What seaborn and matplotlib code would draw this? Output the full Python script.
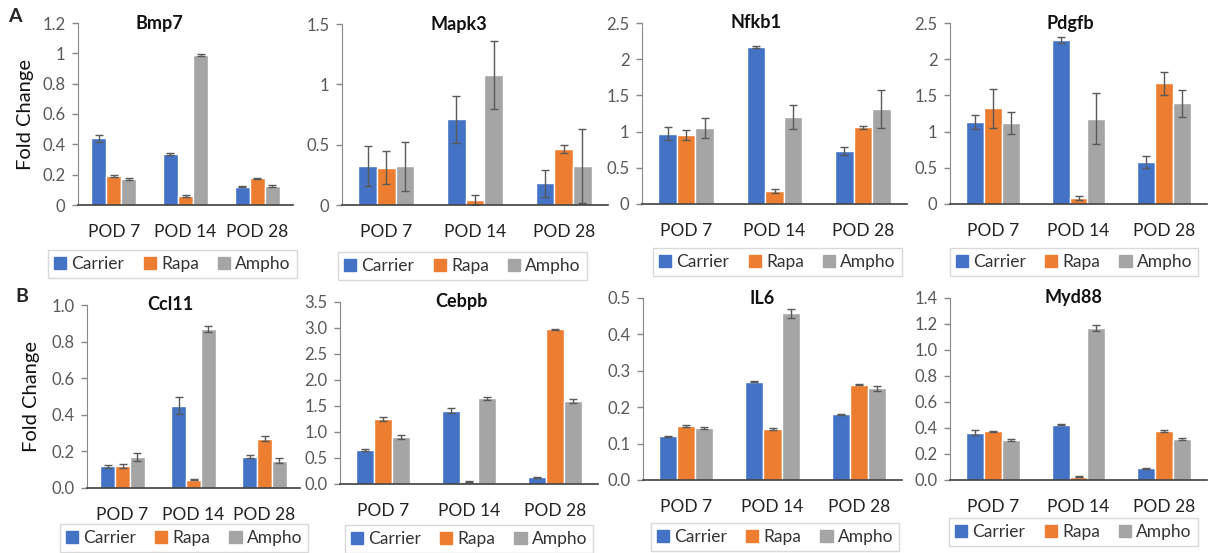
import matplotlib
matplotlib.use("Agg")
import matplotlib.pyplot as plt
import pandas as pd
import seaborn as sns

# categorias
PODS = ["POD 7", "POD 14", "POD 28"]
GROUPS = ["Carrier", "Rapa", "Ampho"]
GENES = ["Bmp7", "Mapk3", "Nfkb1", "Pdgfb", "Ccl11", "Cebpb", "IL6", "Myd88"]

# medias (filas = Carrier, Rapa, Ampho; columnas = POD 7, 14, 28)
bmp7_mean = [[0.44, 0.335, 0.12], [0.19, 0.06, 0.175], [0.17, 0.99, 0.125]]
bmp7_err = [[0.022, 0.008, 0.004], [0.005, 0.005, 0.004], [0.005, 0.005, 0.005]]
mapk3_mean = [[0.32, 0.71, 0.18], [0.31, 0.04, 0.465], [0.32, 1.075, 0.325]]
mapk3_err = [[0.165, 0.195, 0.11], [0.14, 0.04, 0.03], [0.2, 0.28, 0.305]]
nfkb1_mean = [[0.97, 2.17, 0.73], [0.95, 0.18, 1.06], [1.05, 1.2, 1.31]]
nfkb1_err = [[0.09, 0.01, 0.06], [0.07, 0.03, 0.02], [0.14, 0.17, 0.26]]
pdgfb_mean = [[1.13, 2.27, 0.58], [1.32, 0.08, 1.67], [1.12, 1.18, 1.39]]
pdgfb_err = [[0.1, 0.04, 0.08], [0.27, 0.03, 0.16], [0.15, 0.35, 0.19]]
ccl11_mean = [[0.12, 0.45, 0.17], [0.12, 0.045, 0.27], [0.17, 0.87, 0.15]]
ccl11_err = [[0.008, 0.045, 0.008], [0.01, 0.003, 0.012], [0.02, 0.015, 0.015]]
cebpb_mean = [[0.66, 1.41, 0.13], [1.25, 0.04, 2.98], [0.9, 1.65, 1.59]]
cebpb_err = [[0.02, 0.05, 0.01], [0.03, 0.01, 0.01], [0.04, 0.03, 0.04]]
il6_mean = [[0.12, 0.27, 0.18], [0.148, 0.14, 0.262], [0.143, 0.458, 0.252]]
il6_err = [[0.002, 0.002, 0.002], [0.002, 0.002, 0.002], [0.002, 0.012, 0.007]]
myd88_mean = [[0.365, 0.425, 0.09], [0.375, 0.025, 0.38], [0.31, 1.17, 0.315]]
myd88_err = [[0.02, 0.005, 0.005], [0.005, 0.003, 0.008], [0.008, 0.02, 0.008]]

MEANS = [bmp7_mean, mapk3_mean, nfkb1_mean, pdgfb_mean,
         ccl11_mean, cebpb_mean, il6_mean, myd88_mean]
ERRS = [bmp7_err, mapk3_err, nfkb1_err, pdgfb_err,
        ccl11_err, cebpb_err, il6_err, myd88_err]

# ejes
YMAX = [1.2, 1.5, 2.5, 2.5, 1.0, 3.5, 0.5, 1.4]
YSTEP = [0.2, 0.5, 0.5, 0.5, 0.2, 0.5, 0.1, 0.2]

COLORS = ["#4472C4", "#ED7D31", "#A5A5A5"]

W, H = 1209, 553
# rectangulos de ejes en pixeles (izq, arriba, der, abajo)
AX_PX = [(78, 23, 293, 205), (342, 24, 608, 205), (642, 23, 907, 204), (950, 23, 1207, 204),
         (87, 305, 300, 488), (340, 302, 598, 484), (643, 298, 902, 480), (950, 298, 1207, 480)]
LEG_PX = [(50, 248, 295, 280), (347, 252, 578, 280), (650, 247, 905, 277), (948, 246, 1200, 278),
          (60, 523, 308, 553), (343, 525, 595, 553), (648, 522, 902, 552), (947, 517, 1200, 547)]
TITLE_X = [0.38, 0.44, 0.43, 0.47, 0.39, 0.47, 0.46, 0.48]

sns.set_style("white")
plt.rcParams["font.family"] = ["Lato", "DejaVu Sans"]

fig = plt.figure(figsize=(W / 100, H / 100), dpi=100)

for i, gene in enumerate(GENES):
    l, t, r, b = AX_PX[i]
    ax = fig.add_axes([l / W, 1 - b / H, (r - l) / W, (b - t) / H])

    df = pd.DataFrame([
        {"pod": pod, "group": grp, "value": MEANS[i][g][p]}
        for g, grp in enumerate(GROUPS) for p, pod in enumerate(PODS)
    ])
    sns.barplot(data=df, x="pod", y="value", hue="group", order=PODS, hue_order=GROUPS,
                palette=COLORS, width=0.63, errorbar=None, edgecolor="white",
                linewidth=1, saturation=1, ax=ax)

    # barras de error a partir de los centros de cada barra
    bar_conts = list(ax.containers)
    for g, cont in enumerate(bar_conts):
        xs = [p.get_x() + p.get_width() / 2 for p in cont.patches]
        ax.errorbar(xs, MEANS[i][g], yerr=ERRS[i][g], fmt="none", ecolor="#595959",
                    elinewidth=1, capsize=3.2, capthick=1)

    ax.set_xlim(-0.5, 2.5)
    ax.set_ylim(0, YMAX[i])
    n = int(round(YMAX[i] / YSTEP[i]))
    ticks = [k * YSTEP[i] for k in range(n + 1)]
    ax.set_yticks(ticks)
    if i < 4:
        ax.set_yticklabels([f"{v:g}" for v in ticks])
    else:
        ax.set_yticklabels([f"{v:.1f}" for v in ticks])
    ax.tick_params(axis="y", labelsize=12, labelcolor="#595959", left=True,
                   length=4, width=1, color="#888888", pad=5)
    ax.tick_params(axis="x", labelsize=12.5, bottom=False, pad=10, labelcolor="#222222")
    ax.set_xlabel("")
    ax.set_ylabel("")
    for s in ["top", "right"]:
        ax.spines[s].set_visible(False)
    ax.spines["left"].set_color("#888888")
    ax.spines["bottom"].set_color("#404040")
    ax.spines["bottom"].set_linewidth(1.2)

    ax.text(TITLE_X[i], 1.0, gene, transform=ax.transAxes, ha="center", va="center",
            fontsize=13, fontweight="bold", color="#111111")

    # leyenda en caja debajo de cada grafico
    ax.get_legend().remove()
    ll, lt, lr, lb = LEG_PX[i]
    handles = [plt.Rectangle((0, 0), 1, 1, color=c) for c in COLORS]
    leg = fig.legend(handles, GROUPS, loc="center",
                     bbox_to_anchor=((ll + lr) / 2 / W, 1 - (lt + lb) / 2 / H),
                     ncol=3, fontsize=12.5, frameon=True, fancybox=False,
                     handlelength=0.7, handleheight=0.7, handletextpad=0.3,
                     columnspacing=1.1, borderpad=0.35)
    leg.get_frame().set_edgecolor("#D0D0D0")
    leg.get_frame().set_linewidth(1)
    for txt in leg.get_texts():
        txt.set_color("#333333")

fig.text(25 / W, 1 - 115 / H, "Fold Change", rotation=90, ha="center", va="center",
         fontsize=14.5, color="#111111")
fig.text(32 / W, 1 - 397 / H, "Fold Change", rotation=90, ha="center", va="center",
         fontsize=14.5, color="#111111")
fig.text(15 / W, 1 - 17 / H, "A", ha="center", va="center", fontsize=14, fontweight="bold")
fig.text(22 / W, 1 - 297 / H, "B", ha="center", va="center", fontsize=14, fontweight="bold")

fig.savefig("out.png", dpi=100)
plt.close(fig)
